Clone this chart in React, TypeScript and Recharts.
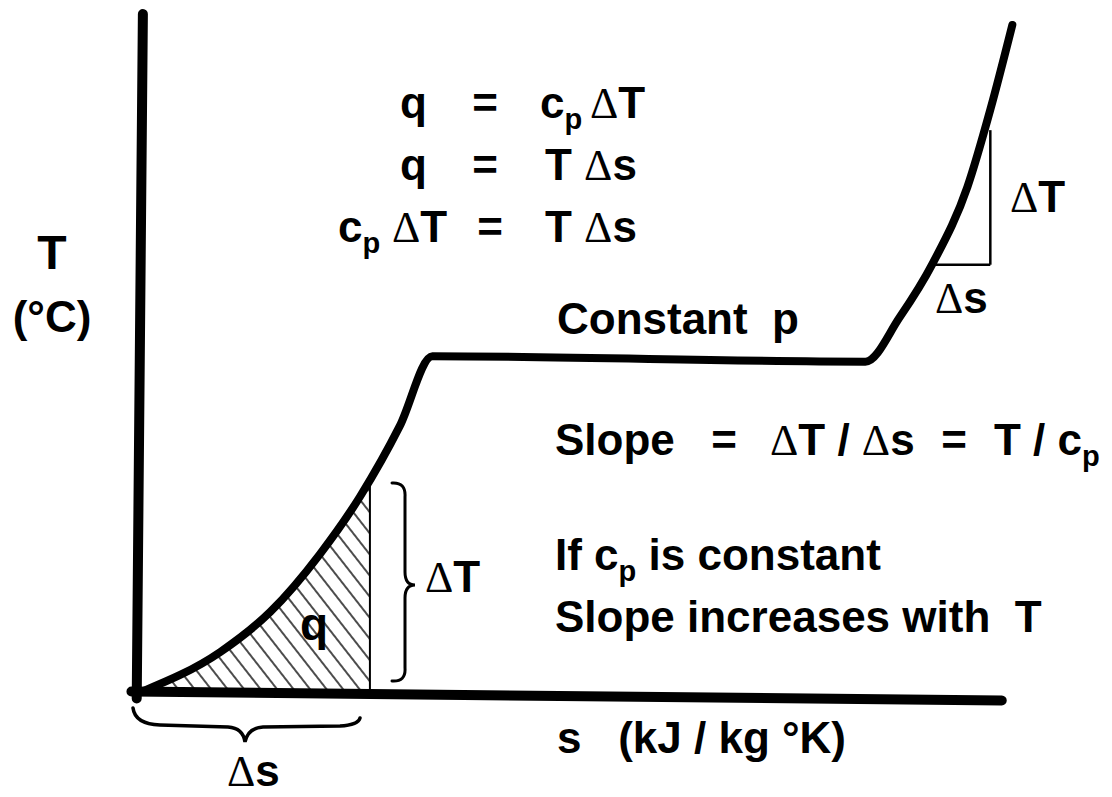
import React from 'react';
import { ComposedChart, Line, Area, XAxis, YAxis, ReferenceLine } from 'recharts';

// T-s sketch: entropy (s) vs temperature (T), arbitrary units 0..100
const curveS = [0, 8.9, 14.6, 20.2, 24.8, 29.3, 33.0, 82.2, 86.1, 89.9, 93.8, 96.4, 98.9];
const curveT = [0.5, 6.3, 12.2, 20.6, 29.1, 39.4, 49.6, 48.8, 55.3, 63.3, 74.4, 85.7, 98.1];

// shaded strip under the curve (heat q)
const hatchS = [0, 8.9, 14.6, 20.2, 24.8, 25.9];
const hatchT = [0.5, 6.3, 12.2, 20.6, 29.1, 31.6];

// small slope triangle on the steep branch
const triS = [90.1, 96.4];
const triT = [63.0, 82.7];

const curve = curveS.map((s, i) => ({ s, T: curveT[i] }));
const hatch = hatchS.map((s, i) => ({ s, T: hatchT[i] }));

const W = 1112;
const H = 797;
const FONT = '"Liberation Sans", Arial, sans-serif';
const SERIF = '"Liberation Serif", "Times New Roman", serif';

const D = () => <tspan fontFamily={SERIF} fontWeight="normal">Δ</tspan>;

const Sub = ({ x, y, base, size = 44 }: { x: number; y: number; base: string; size?: number }) => (
  <text x={x} y={y} fontSize={size}>
    {base}
    <tspan fontSize={size * 0.66} dy={size * 0.26}>p</tspan>
  </text>
);

const Overlay = () => (
  <svg
    width={W}
    height={H}
    style={{ position: 'absolute', left: 0, top: 0, pointerEvents: 'none' }}
    fontFamily={FONT}
    fontWeight="bold"
    fill="#000"
  >
    {/* y axis label */}
    <text x={52} y={269} fontSize={48} textAnchor="middle">T</text>
    <text x={52} y={332} fontSize={44} textAnchor="middle">(°C)</text>

    {/* equations */}
    <text x={400} y={118} fontSize={44}>q</text>
    <text x={485} y={118} fontSize={44} textAnchor="middle">=</text>
    <Sub x={540} y={118} base="c" />
    <text x={590} y={118} fontSize={44}><D />T</text>

    <text x={400} y={180} fontSize={44}>q</text>
    <text x={485} y={180} fontSize={44} textAnchor="middle">=</text>
    <text x={545} y={180} fontSize={44}>T <D />s</text>

    <Sub x={338} y={242} base="c" />
    <text x={392} y={242} fontSize={44}><D />T</text>
    <text x={490} y={242} fontSize={44} textAnchor="middle">=</text>
    <text x={545} y={242} fontSize={44}>T <D />s</text>

    <text x={557} y={334} fontSize={44} xmlSpace="preserve">Constant  p</text>

    <text x={555} y={455} fontSize={44}>Slope</text>
    <text x={724} y={455} fontSize={44} textAnchor="middle">=</text>
    <text x={770} y={455} fontSize={44}><D />T / <D />s</text>
    <text x={954} y={455} fontSize={44} textAnchor="middle">=</text>
    <Sub x={994} y={455} base="T / c" />

    <text x={555} y={570} fontSize={44}>
      If c<tspan fontSize={29} dy={11}>p</tspan>
      <tspan dy={-11}> is constant</tspan>
    </text>
    <text x={555} y={632} fontSize={44} xmlSpace="preserve">Slope increases with  T</text>

    <text x={557} y={753} fontSize={44} xmlSpace="preserve">s   (kJ / kg °K)</text>

    {/* annotations around the hatched strip */}
    <text x={300} y={640} fontSize={46}>q</text>
    <text x={425} y={592} fontSize={44}><D />T</text>
    <text x={227} y={786} fontSize={44}><D />s</text>

    {/* slope triangle labels */}
    <text x={1010} y={212} fontSize={44}><D />T</text>
    <text x={935} y={313} fontSize={44}><D />s</text>

    {/* braces */}
    <path
      d="M392,483 Q406,482 405,497 L405,572 Q405,585 415,585 Q405,585 405,598 L405,668 Q406,682 392,681"
      fill="none"
      stroke="#000"
      strokeWidth={3}
      strokeLinecap="round"
    />
    <path
      d="M133,708 Q135,724 160,725 L228,727 Q243,728 245,742 Q248,728 263,727 L340,726 Q358,725 360,718"
      fill="none"
      stroke="#000"
      strokeWidth={3.5}
      strokeLinecap="round"
    />
  </svg>
);

export default function App() {
  return (
    <div style={{ position: 'absolute', left: 0, top: 0, width: W, height: H, background: '#fff' }}>
      <ComposedChart width={W} height={H} margin={{ top: 12, right: 90, bottom: 102, left: 142 }}>
        <defs>
          <pattern id="hatch" width={13} height={13} patternUnits="userSpaceOnUse" patternTransform="rotate(-38)">
            <line x1={2} y1={0} x2={2} y2={13} stroke="#000" strokeWidth={1.4} />
          </pattern>
        </defs>
        <XAxis type="number" dataKey="s" domain={[0, 100]} hide />
        <YAxis type="number" dataKey="T" domain={[0, 100]} hide />
        <Area
          data={hatch}
          dataKey="T"
          type="monotone"
          baseValue={0}
          fill="url(#hatch)"
          fillOpacity={1}
          stroke="none"
          isAnimationActive={false}
        />
        <ReferenceLine
          segment={[{ x: hatchS[hatchS.length - 1], y: 0 }, { x: hatchS[hatchS.length - 1], y: hatchT[hatchT.length - 1] }]}
          stroke="#000"
          strokeWidth={2}
          ifOverflow="visible"
        />
        {/* axes drawn as thick hand-drawn strokes */}
        <ReferenceLine
          segment={[{ x: -0.6, y: -0.5 }, { x: 0.1, y: 99.7 }]}
          stroke="#000"
          strokeWidth={10}
          strokeLinecap="round"
          ifOverflow="visible"
        />
        <ReferenceLine
          segment={[{ x: -1.2, y: 0.5 }, { x: 97.7, y: -0.8 }]}
          stroke="#000"
          strokeWidth={10}
          strokeLinecap="round"
          ifOverflow="visible"
        />
        {/* slope triangle */}
        <ReferenceLine
          segment={[{ x: triS[1], y: triT[1] }, { x: triS[1], y: triT[0] }]}
          stroke="#000"
          strokeWidth={2.5}
          ifOverflow="visible"
        />
        <ReferenceLine
          segment={[{ x: triS[0], y: triT[0] }, { x: triS[1], y: triT[0] }]}
          stroke="#000"
          strokeWidth={2.5}
          ifOverflow="visible"
        />
        <Line
          data={curve}
          dataKey="T"
          type="monotone"
          stroke="#000"
          strokeWidth={8}
          strokeLinecap="round"
          strokeLinejoin="round"
          dot={false}
          activeDot={false}
          isAnimationActive={false}
        />
      </ComposedChart>
      <Overlay />
    </div>
  );
}
